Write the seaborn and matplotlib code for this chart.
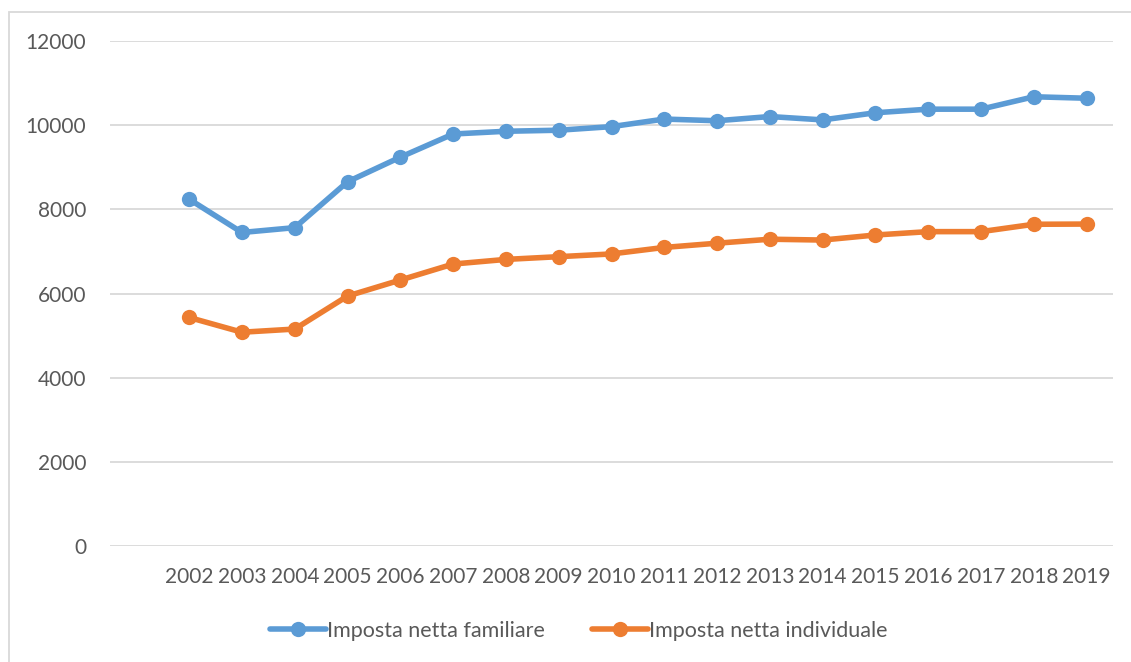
import matplotlib
matplotlib.use("Agg")
import matplotlib.pyplot as plt
from matplotlib.patches import Rectangle
import seaborn as sns
import pandas as pd

# Data
years = ['2002', '2003', '2004', '2005', '2006', '2007', '2008', '2009', '2010',
         '2011', '2012', '2013', '2014', '2015', '2016', '2017', '2018', '2019']
familiare = [8240, 7450, 7565, 8655, 9240, 9790, 9855, 9880, 9965,
             10145, 10105, 10205, 10125, 10295, 10380, 10380, 10675, 10640]
individuale = [5430, 5080, 5155, 5940, 6320, 6700, 6810, 6875, 6940,
               7095, 7195, 7290, 7270, 7390, 7470, 7470, 7645, 7650]

label_fam = 'Imposta netta familiare'
label_ind = 'Imposta netta individuale'
blue = '#5B9BD5'
orange = '#ED7D31'
text_color = '#595959'

df = pd.DataFrame({'pos': range(len(years)), 'fam': familiare, 'ind': individuale})

sns.set_style('white')
plt.rcParams['font.family'] = ['Lato', 'DejaVu Sans']

W, H = 1131, 662
fig = plt.figure(figsize=(W / 100, H / 100), dpi=100)
ax = fig.add_axes([110 / W, (H - 546) / H, 1003 / W, 505 / H])

sns.lineplot(data=df, x='pos', y='fam', ax=ax, color=blue, linewidth=4,
             marker='o', markersize=11, markeredgewidth=0, label=label_fam, legend=False)
sns.lineplot(data=df, x='pos', y='ind', ax=ax, color=orange, linewidth=4,
             marker='o', markersize=11, markeredgewidth=0, label=label_ind, legend=False)

ax.set_xlim(-1.5, len(years) - 0.5)
ax.set_ylim(0, 12000)
ax.set_yticks(range(0, 12001, 2000))
ax.set_xticks(range(len(years)))
ax.set_xticklabels(years)
ax.set_xlabel('')
ax.set_ylabel('')
ax.yaxis.grid(True, color='#D9D9D9', linewidth=1.3)
ax.xaxis.grid(False)
ax.set_axisbelow(True)
for s in ax.spines.values():
    s.set_visible(False)
ax.tick_params(axis='both', length=0, labelsize=15, colors=text_color)
ax.tick_params(axis='y', pad=17)
ax.tick_params(axis='x', pad=15)

handles, labels = ax.get_legend_handles_labels()
leg = fig.legend(handles, labels, loc='center', bbox_to_anchor=(579 / W, 1 - 631 / H),
                 ncol=2, frameon=False, fontsize=15.5, handlelength=2.6,
                 handletextpad=0.05, columnspacing=2.2)
for t in leg.get_texts():
    t.set_color(text_color)

# chart area border (only the left and top edges fall inside the picture)
fig.patches.append(Rectangle((8.5 / W, -0.05), 1.2, (H - 12) / H + 0.05,
                             transform=fig.transFigure, fill=False,
                             edgecolor='#D9D9D9', linewidth=1.3))

fig.savefig('out.png', dpi=100)
